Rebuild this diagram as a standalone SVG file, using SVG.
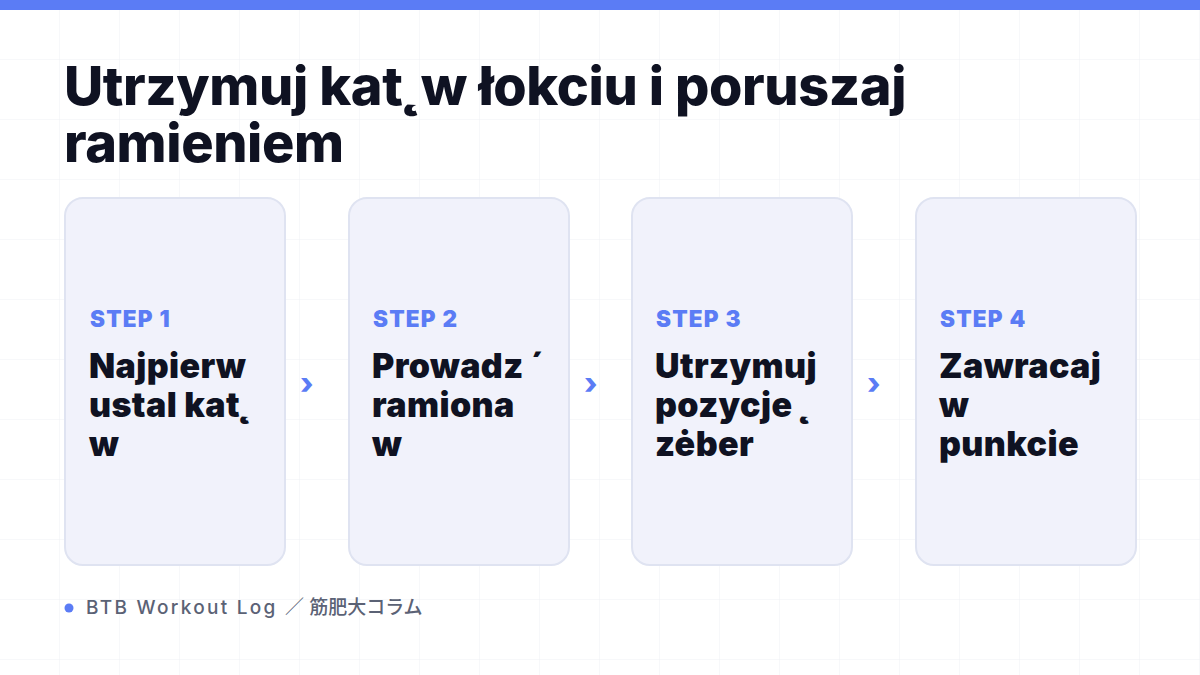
<svg xmlns="http://www.w3.org/2000/svg" width="1200" height="675" viewBox="0 0 1200 675">
  <defs>
    <pattern id="grid" width="60" height="60" patternUnits="userSpaceOnUse">
      <path d="M60 0V60M0 60H60" fill="none" stroke="#EFF0F4" stroke-width="1"/>
    </pattern>
  </defs>
  <style>
    .title { font-family: Inter, "Liberation Sans", "Noto Sans CJK JP", sans-serif; font-weight: 800; font-size: 54px; fill: #0F1222; letter-spacing: -0.4px; }
    .card { fill: #F1F2FB; stroke: #DFE3F1; stroke-width: 2; }
    .step { font-family: Inter, "Liberation Sans", sans-serif; font-weight: 900; font-size: 22.5px; fill: #5B7CF5; letter-spacing: 1.2px; }
    .label { font-family: Inter, "Liberation Sans", sans-serif; font-weight: 900; font-size: 34px; fill: #0F1222; letter-spacing: 0.4px; }
    .arrow { font-family: Inter, "Liberation Sans", sans-serif; font-weight: 800; font-size: 30px; fill: #5B7CF5; }
    .foot { font-family: Inter, "Noto Sans CJK JP", sans-serif; font-weight: 500; font-size: 19px; fill: #5B6275; }
  </style>
  <rect width="1200" height="675" fill="#FFFFFF"/>
  <rect width="1200" height="675" fill="url(#grid)"/>
  <rect x="0" y="0" width="1200" height="10" fill="#5B7CF5"/>

  <g id="title">
    <text class="title" x="64" y="105">Utrzymuj kat&#x0328;<tspan dx="7"> w łokciu i poruszaj</tspan></text>
    <text class="title" x="64" y="162">ramieniem</text>
  </g>

  <g id="step1">
    <rect class="card" x="65" y="198" width="220" height="367" rx="18"/>
    <text class="step" x="90" y="327">STEP 1</text>
    <text class="label" x="89" y="378">Najpierw</text>
    <text class="label" x="89" y="417">ustal kat&#x0328;</text>
    <text class="label" x="89" y="456">w</text>
  </g>
  <g id="step2">
    <rect class="card" x="349" y="198" width="220" height="367" rx="18"/>
    <text class="step" x="373" y="327">STEP 2</text>
    <text class="label" x="372" y="378">Prowadz &#x0301;</text>
    <text class="label" x="372" y="417">ramiona</text>
    <text class="label" x="372" y="456">w</text>
  </g>
  <g id="step3">
    <rect class="card" x="632" y="198" width="220" height="367" rx="18"/>
    <text class="step" x="656" y="327">STEP 3</text>
    <text class="label" x="655" y="378">Utrzymuj</text>
    <text class="label" x="655" y="417">pozycje &#x0328;</text>
    <text class="label" x="655" y="456">ze&#x0307;ber</text>
  </g>
  <g id="step4">
    <rect class="card" x="916" y="198" width="220" height="367" rx="18"/>
    <text class="step" x="940" y="327">STEP 4</text>
    <text class="label" x="939" y="378">Zawracaj</text>
    <text class="label" x="939" y="417">w</text>
    <text class="label" x="939" y="456">punkcie</text>
  </g>

  <g id="connectors">
    <text class="arrow" x="300" y="394">›</text>
    <text class="arrow" x="584" y="394">›</text>
    <text class="arrow" x="867" y="394">›</text>
  </g>

  <g id="footer">
    <circle cx="69" cy="608" r="4.5" fill="#5B7CF5"/>
    <text class="foot" x="86" y="614"><tspan letter-spacing="2.3">BTB Workout Log </tspan>／ 筋肥大コラム</text>
  </g>
</svg>
